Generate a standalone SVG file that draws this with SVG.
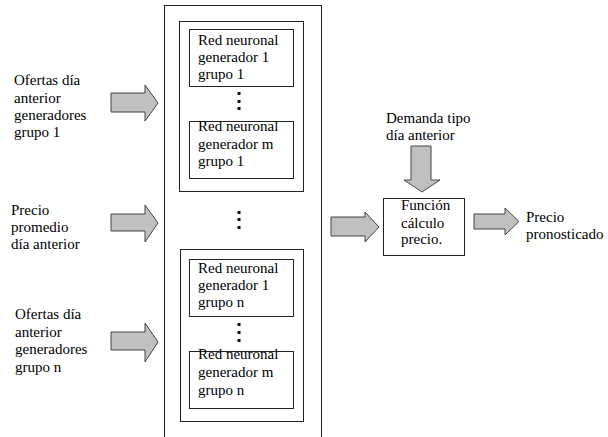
<svg xmlns="http://www.w3.org/2000/svg" width="608" height="437" viewBox="0 0 608 437">
<style>
text{font-family:"Liberation Serif","Times New Roman",serif;font-size:15px;fill:#000}
.box{fill:#fff;stroke:#222;stroke-width:1}
.arrow{fill:#c0c0c0;stroke:#444;stroke-width:1}
.dot{fill:#111}
</style>
<rect width="608" height="437" fill="#fff"/>
<g id="outer"><rect class="box" x="164.5" y="5.5" width="157" height="440"/></g>
<g id="group1"><rect class="box" x="179.5" y="21.5" width="124" height="170"/></g>
<g id="groupn"><rect class="box" x="180.5" y="249.5" width="123" height="172"/></g>
<g id="nn11"><rect class="box" x="189.5" y="29.5" width="104" height="57"/>
<text x="198" y="45">Red neuronal</text><text x="198" y="62">generador 1</text><text x="198" y="79">grupo 1</text></g>
<g id="nnm1"><rect class="box" x="189.5" y="121.5" width="104" height="57"/>
<text x="198" y="131">Red neuronal</text><text x="198" y="149">generador m</text><text x="198" y="166">grupo 1</text></g>
<g id="nn1n"><rect class="box" x="189.5" y="259.5" width="104" height="57"/>
<text x="198" y="273">Red neuronal</text><text x="198" y="290">generador 1</text><text x="198" y="307">grupo n</text></g>
<g id="nnmn"><rect class="box" x="189.5" y="351.5" width="104" height="57"/>
<text x="198" y="359">Red neuronal</text><text x="198" y="377">generador m</text><text x="198" y="395">grupo n</text></g>
<g id="dots">
<rect class="dot" x="237.5" y="92" width="3" height="3"/><rect class="dot" x="237.5" y="100" width="3" height="3"/><rect class="dot" x="237.5" y="107" width="3" height="3"/>
<rect class="dot" x="237.5" y="211" width="3" height="3"/><rect class="dot" x="237.5" y="218" width="3" height="3"/><rect class="dot" x="237.5" y="226" width="3" height="3"/>
<rect class="dot" x="237.5" y="323" width="3" height="3"/><rect class="dot" x="237.5" y="331" width="3" height="3"/><rect class="dot" x="237.5" y="339" width="3" height="3"/>
</g>
<g id="in1"><text x="14" y="85">Ofertas día</text><text x="14" y="103">anterior</text><text x="14" y="120">generadores</text><text x="14" y="137">grupo 1</text></g>
<g id="in2"><text x="11" y="215">Precio</text><text x="11" y="232">promedio</text><text x="11" y="249">día anterior</text></g>
<g id="in3"><text x="15" y="319">Ofertas día</text><text x="15" y="337">anterior</text><text x="15" y="354">generadores</text><text x="15" y="372">grupo n</text></g>
<g id="demanda"><text x="386" y="123">Demanda tipo</text><text x="386" y="140">día anterior</text></g>
<g id="funcion"><rect class="box" x="383.5" y="198.5" width="81" height="57"/>
<text x="401" y="210">Función</text><text x="401" y="228">cálculo</text><text x="401" y="244">precio.</text></g>
<g id="salida"><text x="526" y="222">Precio</text><text x="526" y="239">pronosticado</text></g>
<g id="connectors">
<polygon class="arrow" points="111,93 145,93 145,85 158,103 145,121 145,112 111,112"/>
<polygon class="arrow" points="111,214 145,214 145,205 158,223 145,242 145,231 111,231"/>
<polygon class="arrow" points="111,332 145,332 145,323 158,342 145,362 145,350 111,350"/>
<polygon class="arrow" points="331,217 365,217 365,212 379,227 365,242 365,236 331,236"/>
<polygon class="arrow" points="474,214 505,214 505,208 519,221.5 505,235 505,229 474,229"/>
<polygon class="arrow" points="411,146 431,146 431,180 440,180 422,192 404,180 411,180"/>
</g>
</svg>
